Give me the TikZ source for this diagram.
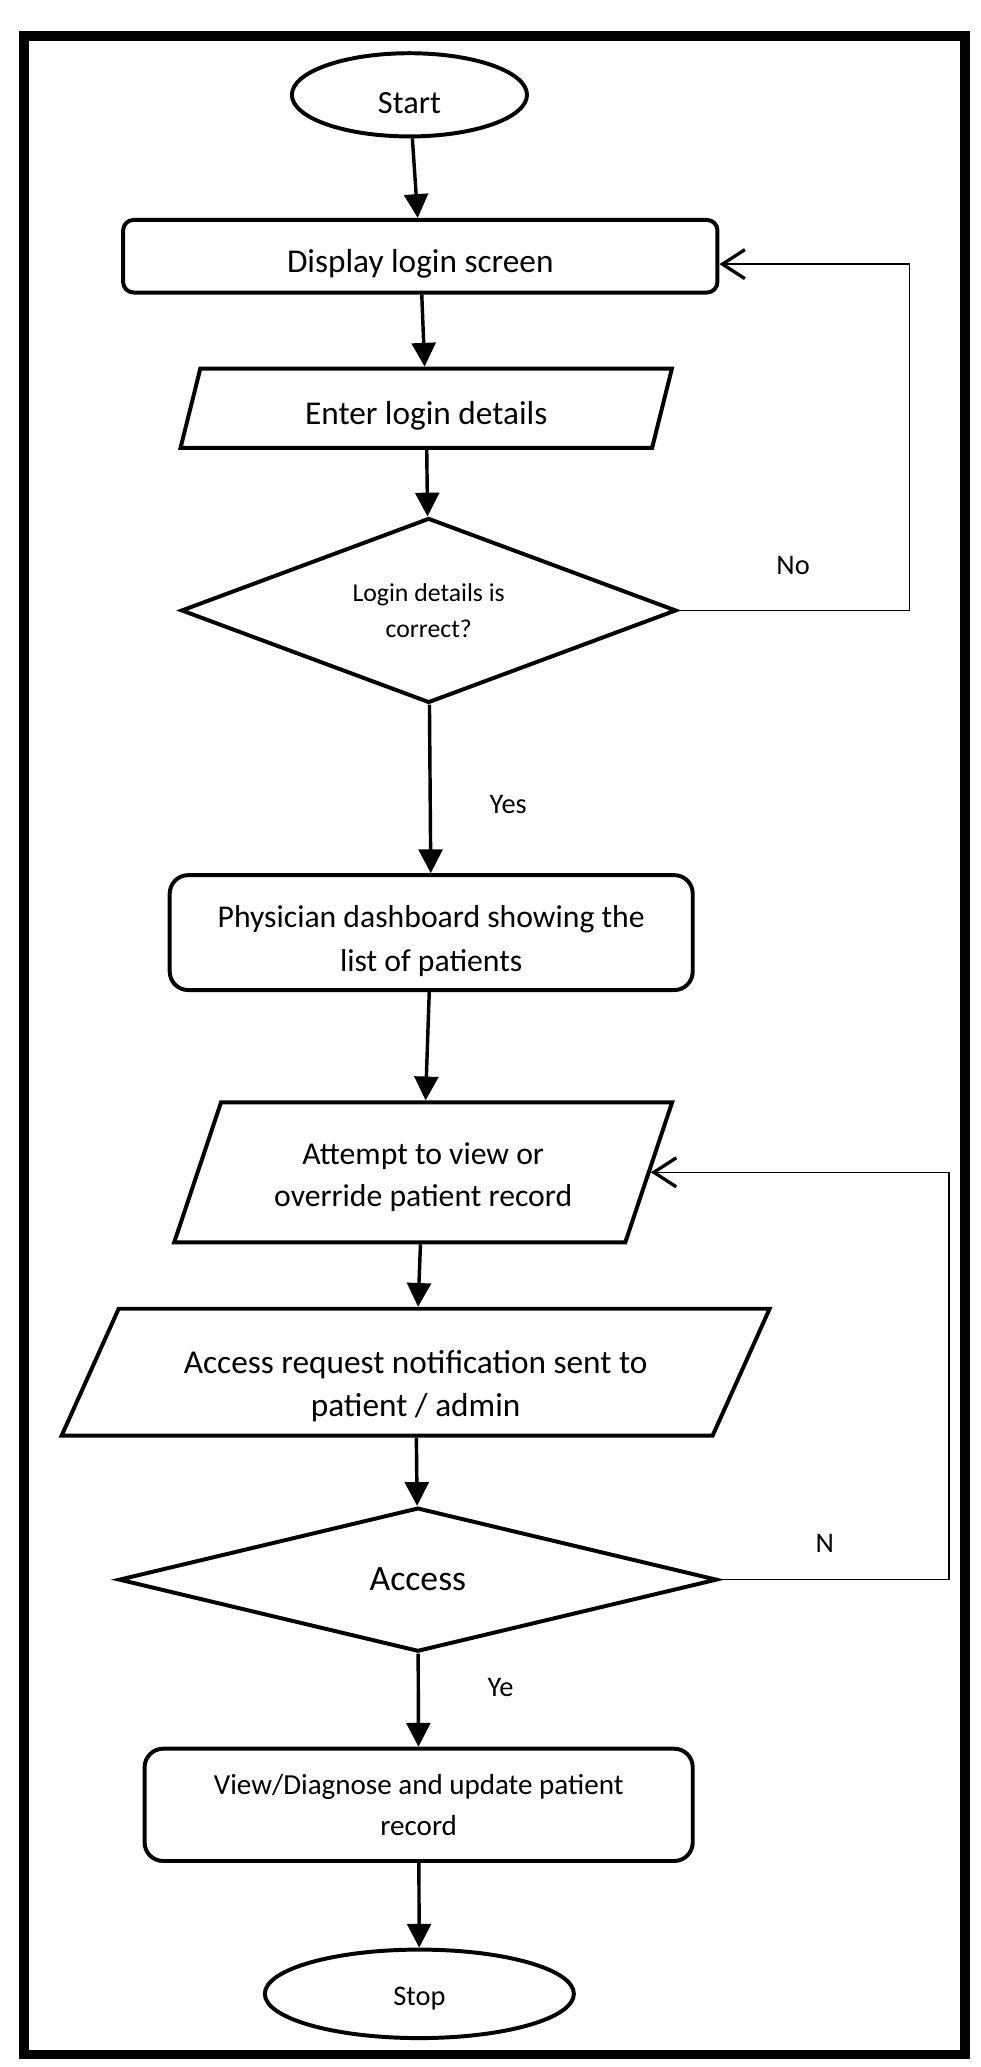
\documentclass[tikz,border=0pt]{standalone}
\usepackage{fontspec}
\setmainfont{Carlito}
\usetikzlibrary{positioning, shapes.geometric, arrows.meta}
\tikzset{
shapebox/.style={
  draw,
  line width=3pt,
  align=center,
  inner sep=0pt
  },
terminal/.style={shapebox, ellipse},
block/.style={shapebox, rectangle, rounded corners=14pt, font=\fontsize{24}{33.7}\selectfont},
io/.style={shapebox, trapezium, trapezium stretches body, font=\fontsize{24}{32}\selectfont},
decision/.style={shapebox, diamond},
txt/.style={font=\fontsize{21.5}{26}\selectfont, inner sep=0pt},
line/.style={-{Triangle[length=18pt,width=18pt]}, line width=2.6pt},
loopback/.style={-{Straight Barb[length=17pt,width=22pt,line width=2.5pt]}, line width=1.2pt}
}
\begin{document}
\begin{tikzpicture}[x=1pt, y=-1pt]
\useasboundingbox (0,0) rectangle (742,1565);
\draw[line width=7.5pt] (18,27.5) rectangle (730.5,1555.5);

\node[terminal, minimum width=178pt, minimum height=63pt, text height=29pt, text depth=0pt, font=\fontsize{24.5}{30}\selectfont]	(start)	at (310,71.8)		{Start};
\node[block, rounded corners=8pt, minimum width=450pt, minimum height=55pt, text height=24pt, text depth=0pt, font=\fontsize{25.2}{33}\selectfont]	(display)	at (318.2,194)		{Display login screen};
\node[io, trapezium left angle=76, trapezium right angle=104, minimum width=372pt, inner ysep=18pt, text height=24pt, text depth=0pt, font=\fontsize{25.2}{33}\selectfont]	(enter)	at (322.7,309.1)	{Enter login details};
\node[decision, aspect=2.6, minimum width=375pt, minimum height=140pt, font=\fontsize{19.5}{27}\selectfont]	(check)	at (324.6,462.2)	{Login details is \\ correct?};
\node[block, minimum width=396pt, minimum height=87pt, text height=62pt, text depth=3pt]	(dashboard)	at (326.5,706.1)	{Physician dashboard showing the \\ list of patients};
\node[io, trapezium left angle=71.5, trapezium right angle=108.5, minimum width=377pt, inner ysep=26pt, text height=53pt, text depth=1pt]	(attempt)	at (320.4,887.6)	{Attempt to view or \\ override patient record};
\node[io, trapezium left angle=65.8, trapezium right angle=114.2, minimum width=536pt, inner ysep=12.8pt, text height=69pt, text depth=1.4pt, font=\fontsize{25.2}{33}\selectfont]	(notify)	at (314.7,1038.9)	{Access request notification sent to \\ patient / admin};
\node[decision, aspect=4, minimum width=453pt, minimum height=109pt, font=\fontsize{27}{32}\selectfont]	(access)	at (316.4,1196)	{Access};
\node[block, minimum width=415pt, minimum height=85pt, font=\fontsize{22}{30.6}\selectfont]	(update)	at (317,1366.5)	{View/Diagnose and update patient \\ record};
\node[terminal, minimum width=234pt, minimum height=67pt, text height=19pt, text depth=1.5pt, font=\fontsize{21.5}{26}\selectfont]	(stop)	at (317.5,1509.6)	{Stop};

\node[txt]	(no)	at (600.5,427.8)	{No};
\node[txt]	(yes)	at (384.8,609.4)	{Yes};
\node[txt]	(n)	at (624.4,1168.3)	{N};
\node[txt]	(ye)	at (379,1277.4)	{Ye};

\draw[line]	(start)		--	(display);
\draw[line]	(display)	--	(enter);
\draw[line]	(enter)		--	(check);
\draw[line]	(check)		--	(dashboard);
\draw[line]	(dashboard)	--	(attempt);
\draw[line]	(attempt)	--	(notify);
\draw[line]	(notify)	--	(access);
\draw[line]	(access)	--	(update);
\draw[line]	(update)	--	(stop);
\draw[loopback]	(check.east)	--	++(175,0)	|-	([yshift=-6pt]display.east);
\draw[loopback]	(access.east)	--	++(174,0)	|-	(attempt.east);
\end{tikzpicture}
\end{document}
